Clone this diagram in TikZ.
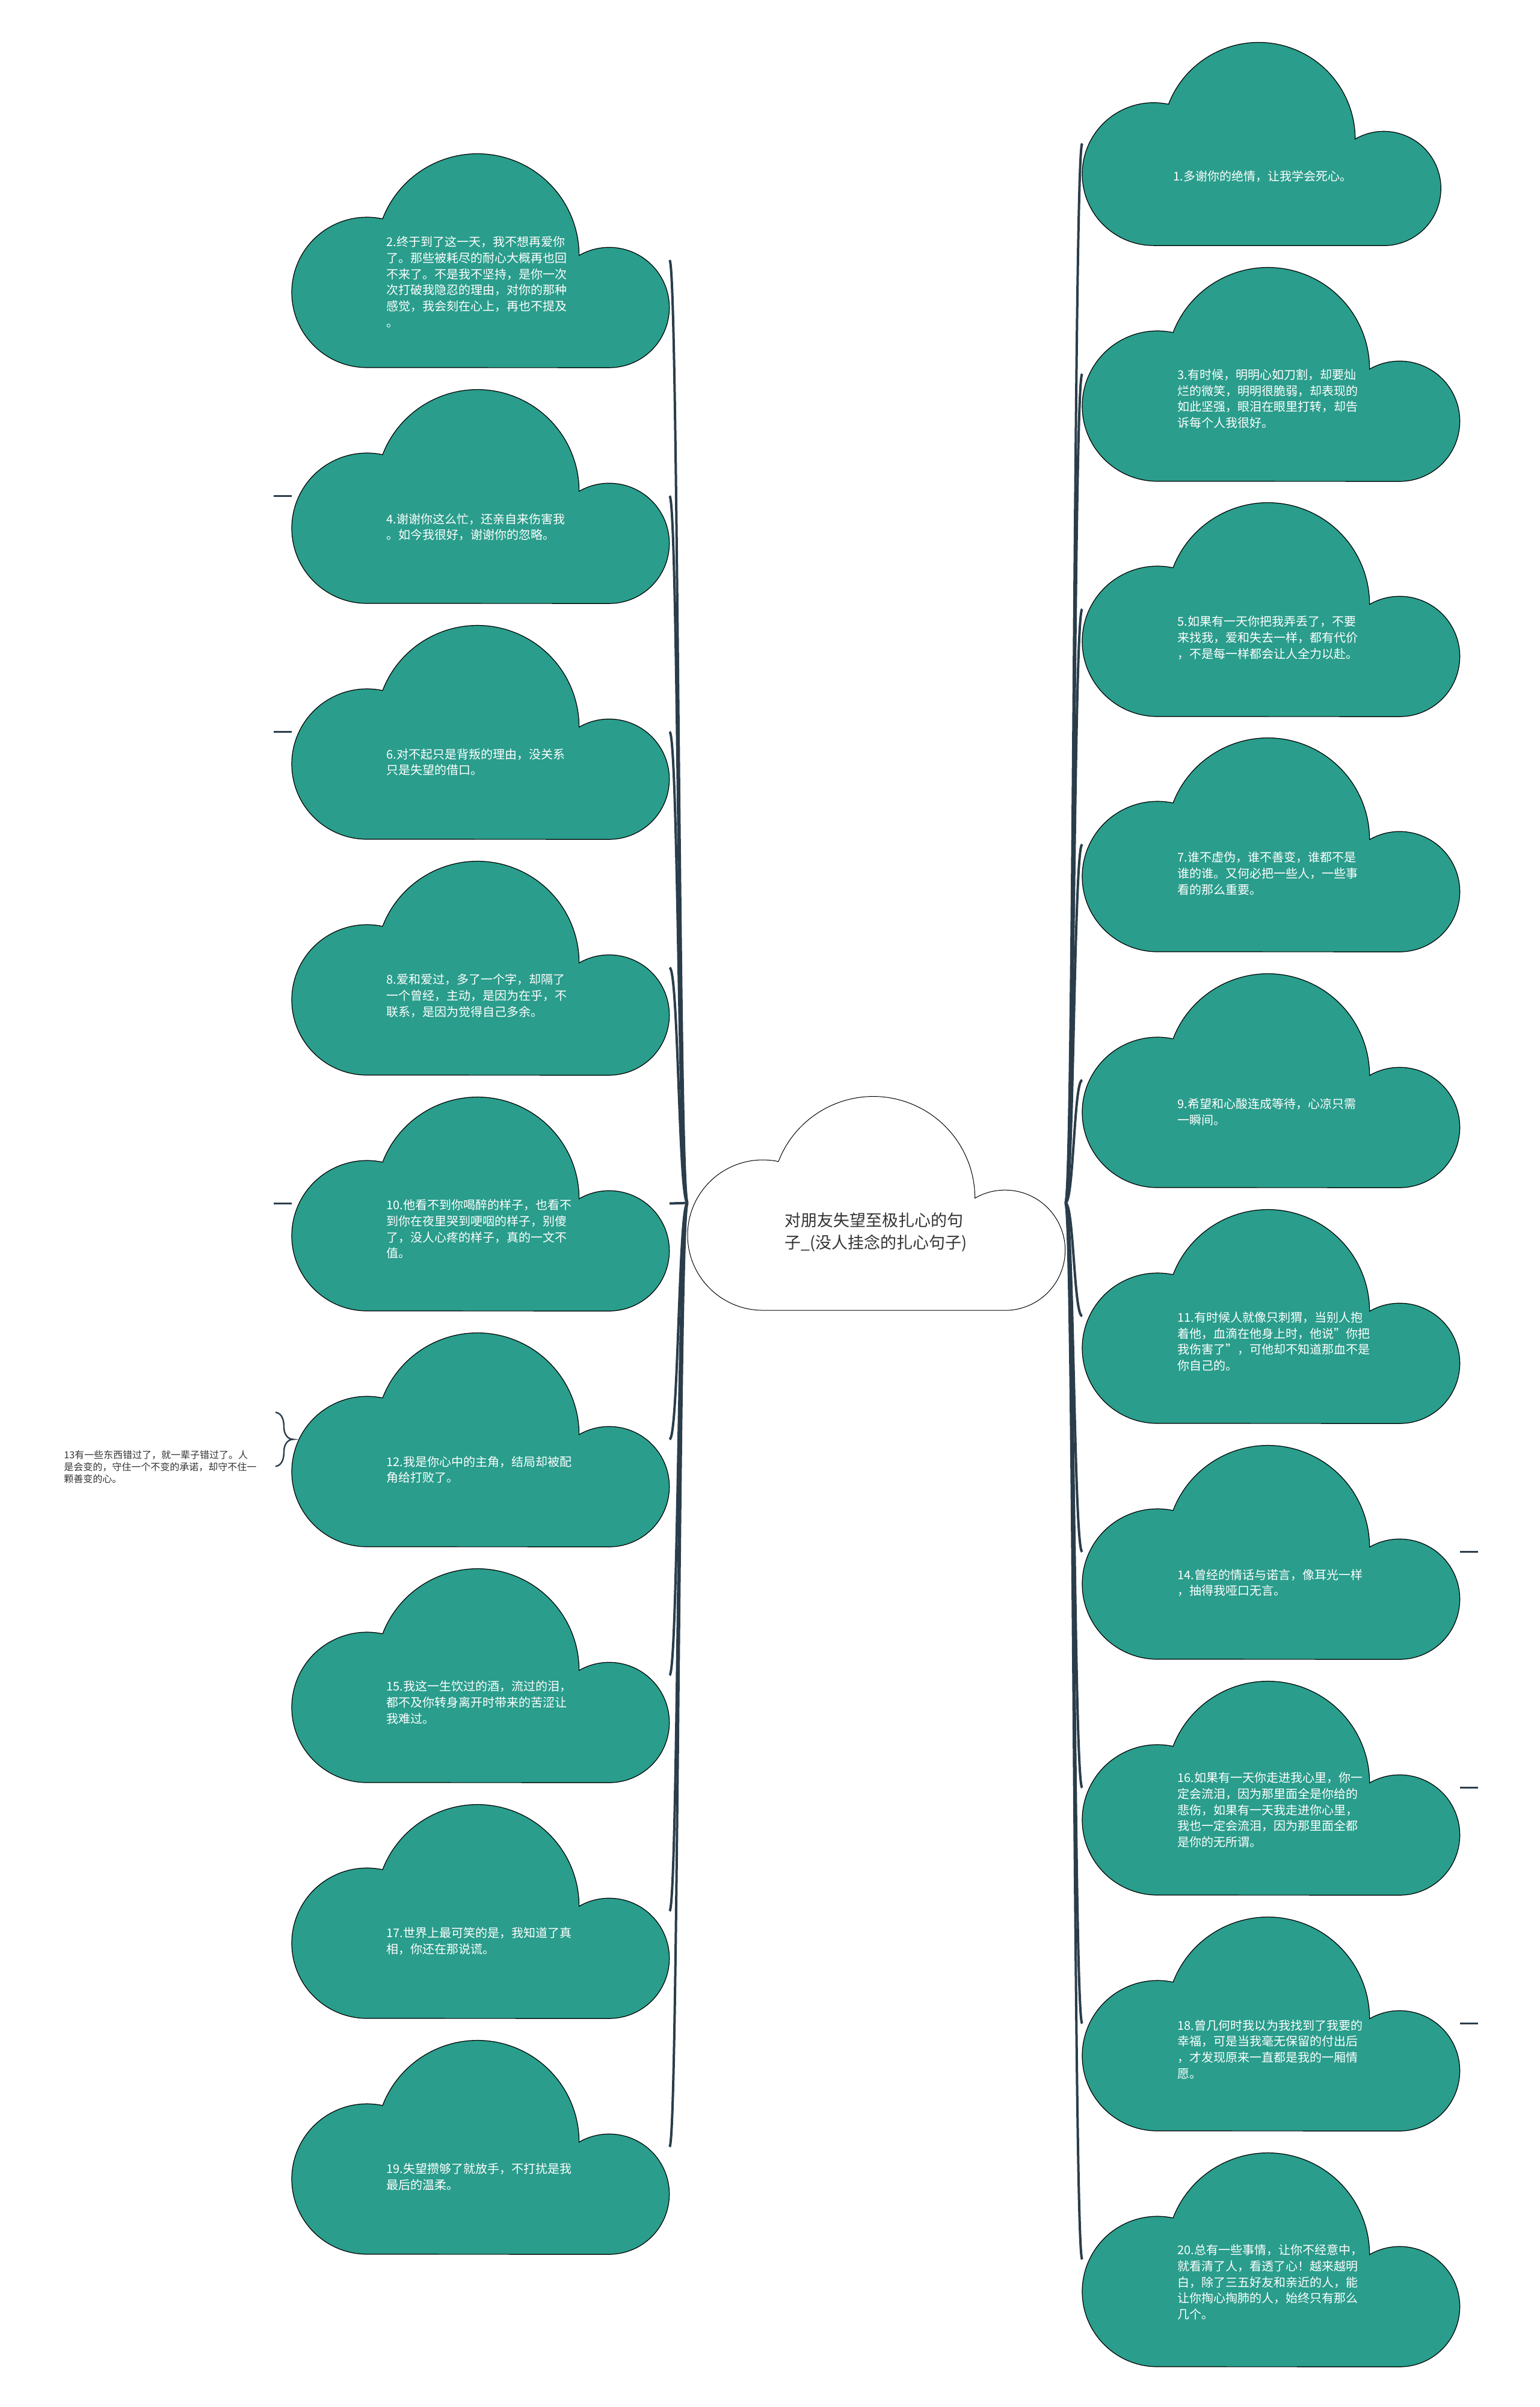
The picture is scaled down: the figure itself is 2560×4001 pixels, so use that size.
\documentclass[tikz,border=0pt]{standalone}
\usepackage{fontspec}
\setmainfont{Noto Sans CJK SC}
\usetikzlibrary{calc}
\definecolor{cloudteal}{HTML}{2A9D8C}
\definecolor{connclr}{HTML}{2B3D4A}
\definecolor{darktext}{HTML}{333333}
\tikzset{
  cbox/.style={rectangle, inner sep=0pt, outer sep=0pt, minimum width=314pt, minimum height=178.5pt},
  cloudfill/.style={fill=cloudteal, draw=black, line width=0.6pt},
  centerfill/.style={fill=white, draw=black, line width=0.5pt},
  ctext/.style={text=white, align=left, inner sep=0pt, font=\fontsize{10}{13.35}\selectfont},
  connline/.style={draw=connclr, line width=2pt},
  stubline/.style={draw=connclr, line width=1.2pt},
}
\newcommand\leafcloud[7]{%
  \node[cbox, minimum width=#4*314pt, minimum height=#4*178.5pt, anchor=north west] (#1) at (#2,#3) {};
  \path[cloudfill, shift={(#1.north west)}, scale=#4]
    (125,357) arc[start angle=90, end angle=282, radius=125]
    arc[start angle=201.1, end angle=360, radius=169]
    arc[start angle=240, end angle=450, radius=100] -- cycle;
  \node[ctext, anchor=west] (#1t) at ($(#1.north west)+(#5,#6)$) {#7};
}
\begin{document}
\begin{tikzpicture}[x=0.5pt, y=-0.5pt]
\fill[white] (0,0) rectangle (2560,4001);
\useasboundingbox (0,0) rectangle (2560,4001);

% central node box
\node[cbox, anchor=north west] (ctr) at (1143,1821) {};

% left boxes
\foreach \nm/\tp in {c2/254, c4/646, c6/1038, c8/1430, c10/1822, c12/2214, c15/2606, c17/2998, c19/3390}{
  \node[cbox, anchor=north west] (\nm) at (485,\tp) {};
}
% right boxes
\node[cbox, minimum width=0.95*314pt, minimum height=0.95*178.5pt, anchor=north west] (c1) at (1799,69) {};
\foreach \nm/\tp in {c3/443, c5/834, c7/1225, c9/1617, c11/2009, c14/2401, c16/2793, c18/3185, c20/3577}{
  \node[cbox, anchor=north west] (\nm) at (1799,\tp) {};
}

% connectors
\foreach \nm in {c2,c4,c6,c8,c10,c12,c15,c17,c19}{
  \draw[connline] (ctr.west) .. controls +(-15,0) and +(15,0) .. (\nm.east);
}
\foreach \nm in {c1,c3,c5,c7,c9,c11,c14,c16,c18,c20}{
  \draw[connline] (ctr.east) .. controls +(14,0) and +(-14,0) .. (\nm.west);
}

% central cloud
\path[centerfill, shift={(ctr.north west)}]
    (125,357) arc[start angle=90, end angle=282, radius=125]
    arc[start angle=201.1, end angle=360, radius=169]
    arc[start angle=240, end angle=450, radius=100] -- cycle;
\node[text=darktext, align=left, inner sep=0pt, font=\fontsize{13.5}{18.5}\selectfont] (ctrt) at ($(ctr.north west)+(313,227)$) {对朋友失望至极扎心的句\\子\_(没人挂念的扎心句子)};

% left clouds
\leafcloud{c2}{485}{254}{1}{157}{214.5}{2.终于到了这一天，我不想再爱你\\了。那些被耗尽的耐心大概再也回\\不来了。不是我不坚持，是你一次\\次打破我隐忍的理由，对你的那种\\感觉，我会刻在心上，再也不提及\\。}
\leafcloud{c4}{485}{646}{1}{157}{230}{4.谢谢你这么忙，还亲自来伤害我\\。如今我很好，谢谢你的忽略。}
\leafcloud{c6}{485}{1038}{1}{157}{229}{6.对不起只是背叛的理由，没关系\\只是失望的借口。}
\leafcloud{c8}{485}{1430}{1}{157}{225}{8.爱和爱过，多了一个字，却隔了\\一个曾经，主动，是因为在乎，不\\联系，是因为觉得自己多余。}
\leafcloud{c10}{485}{1822}{1}{157}{221}{10.他看不到你喝醉的样子，也看不\\到你在夜里哭到哽咽的样子，别傻\\了，没人心疼的样子，真的一文不\\值。}
\leafcloud{c12}{485}{2214}{1}{157}{229}{12.我是你心中的主角，结局却被配\\角给打败了。}
\leafcloud{c15}{485}{2606}{1}{157}{224}{15.我这一生饮过的酒，流过的泪，\\都不及你转身离开时带来的苦涩让\\我难过。}
\leafcloud{c17}{485}{2998}{1}{157}{228.5}{17.世界上最可笑的是，我知道了真\\相，你还在那说谎。}
\leafcloud{c19}{485}{3390}{1}{157}{228.5}{19.失望攒够了就放手，不打扰是我\\最后的温柔。}

% right clouds
\leafcloud{c1}{1799}{69}{0.95}{151}{224}{1.多谢你的绝情，让我学会死心。}
\leafcloud{c3}{1799}{443}{1}{158}{220}{3.有时候，明明心如刀割，却要灿\\烂的微笑，明明很脆弱，却表现的\\如此坚强，眼泪在眼里打转，却告\\诉每个人我很好。}
\leafcloud{c5}{1799}{834}{1}{158}{226}{5.如果有一天你把我弄丢了，不要\\来找我，爱和失去一样，都有代价\\，不是每一样都会让人全力以赴。}
\leafcloud{c7}{1799}{1225}{1}{158}{227}{7.谁不虚伪，谁不善变，谁都不是\\谁的谁。又何必把一些人，一些事\\看的那么重要。}
\leafcloud{c9}{1799}{1617}{1}{158}{231}{9.希望和心酸连成等待，心凉只需\\一瞬间。}
\leafcloud{c11}{1799}{2009}{1}{158}{221}{11.有时候人就像只刺猬，当别人抱\\着他，血滴在他身上时，他说"你把\\我伤害了"，可他却不知道那血不是\\你自己的。}
\leafcloud{c14}{1799}{2401}{1}{158}{230}{14.曾经的情话与诺言，像耳光一样\\，抽得我哑口无言。}
\leafcloud{c16}{1799}{2793}{1}{158}{215.5}{16.如果有一天你走进我心里，你一\\定会流泪，因为那里面全是你给的\\悲伤，如果有一天我走进你心里，\\我也一定会流泪，因为那里面全都\\是你的无所谓。}
\leafcloud{c18}{1799}{3185}{1}{158}{221.5}{18.曾几何时我以为我找到了我要的\\幸福，可是当我毫无保留的付出后\\，才发现原来一直都是我的一厢情\\愿。}
\leafcloud{c20}{1799}{3577}{1}{158}{216.5}{20.总有一些事情，让你不经意中，\\就看清了人，看透了心！越来越明\\白，除了三五好友和亲近的人，能\\让你掏心掏肺的人，始终只有那么\\几个。}

% stubs
\foreach \nm in {c4,c6,c10}{
  \coordinate (\nm s) at ($(\nm.west)+(-30,0)$);
  \draw[stubline] (\nm.west) -- (\nm s);
}
\foreach \nm in {c14,c16,c18}{
  \coordinate (\nm s) at ($(\nm.east)+(30,0)$);
  \draw[stubline] (\nm.east) -- (\nm s);
}

% brace and summary text
\coordinate (brtip) at ($(c12.west)+(2,0)$);
\draw[stubline] ($(brtip)+(-29,-45)$) .. controls +(12,2) and +(0,-10) .. ($(brtip)+(-15,-20)$)
  .. controls +(0,12) and +(-8,0) .. (brtip)
  .. controls +(-8,0) and +(0,-12) .. ($(brtip)+(-15,20)$)
  .. controls +(0,10) and +(12,-2) .. ($(brtip)+(-29,45)$);
\node[text=darktext, align=left, inner sep=0pt, anchor=west, font=\fontsize{8}{10}\selectfont] (sum13) at (106,2438) {13有一些东西错过了，就一辈子错过了。人\\是会变的，守住一个不变的承诺，却守不住一\\颗善变的心。};
\end{tikzpicture}
\end{document}
